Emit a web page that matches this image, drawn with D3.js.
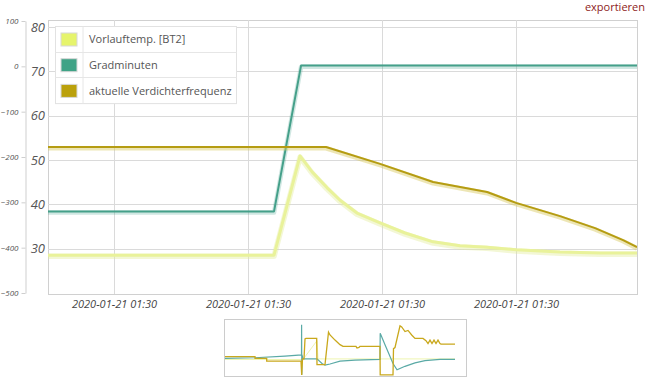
<!DOCTYPE html>
<html><head><meta charset="utf-8">
<script src="https://cdn.jsdelivr.net/npm/d3@7"></script>
<style>body{margin:0;background:#fff}svg{display:block}</style>
</head><body><svg id="c" width="647" height="380"></svg>
<script>
// ---------- data ----------
const seriesNames = ["Vorlauftemp. [BT2]", "Gradminuten", "aktuelle Verdichterfrequenz"];
const seriesColors = ["#e6f46c", "#3fa386", "#bba10c"];

// seconds after 2020-01-21 01:30:00
const vorlaufTimes  = [5.07, 21.94, 23.88, 24.78, 25.90, 26.87, 28.13, 29.85, 31.72, 33.81, 35.82, 37.84, 40.0, 43.28, 46.27, 49.03];
const vorlaufValues = [28.5, 28.5, 50.9, 47.3, 43.7, 40.9, 38.0, 35.8, 33.5, 31.5, 30.6, 30.3, 29.7, 29.2, 29.0, 29.0];

const gradTimes  = [5.07, 21.94, 23.96, 49.03];
const gradValues = [-320, -320, 2, 2];

const freqTimes  = [5.07, 25.82, 29.85, 33.81, 37.84, 40.0, 43.28, 45.90, 47.99, 49.03];
const freqValues = [52.9, 52.9, 49.1, 45.0, 42.75, 40.3, 37.3, 34.6, 31.9, 30.3];

const xTickSeconds = [10, 20, 30, 40];
const innerTicks = [30, 40, 50, 60, 70, 80];
const outerTicks = [100, 0, -100, -200, -300, -400, -500];

// overview (navigator) series: time index, relative level 0..100
const ovFreqT = [0,30,30,41.7,41.7,76,76.7,77.5,79,80,81,91.7,92,100,103.5,105,110,115,118,131,132,134,135,155,155.2,168,168.5,170,175,176.7,180,183,186.7,190,198,201,203,205,207,209,211,213,215,216,230];
const ovFreqV = [34,34,31,31,26,26,2,30,30,65,66,66,20,20,77,72,63,55,52,52,49,50,52,52,2,2,48,50,88,86,78,80,72,66,66,62,57,63,57,63,57,63,57,56,56];
const ovGradT = [0,30,60,76.5,76.6,76.8,77,78,92,97,100,105,115,130,155,155.2,160,168,172,180,190,200,215,230];
const ovGradV = [31,32,35,37,90,2,37,30,30,22,19,21,26,28,29,75,55,22,11,17,23,27,29,29];
const ovVorT = [0,78,92,93,230];
const ovVorV = [29,29,62,30,30];

// ---------- setup ----------
const svg = d3.select("#c");
const base = new Date(2020, 0, 21, 1, 30, 0).getTime();
const toDate = s => new Date(base + s * 1000);
const L = 48, R = 637, T = 20, B = 294;

const allT = vorlaufTimes.concat(gradTimes, freqTimes);
const x = d3.scaleTime().domain(d3.extent(allT).map(toDate)).range([L, R]);
const yInner = d3.scaleLinear().domain([20, 80]).range([292.8, 27]);
const yOuter = d3.scaleLinear().domain([-500, 100]).range([293, 21]);

const FONT = "'Open Sans', 'DejaVu Sans', sans-serif";

// plot frame + grid
svg.append("rect").attr("x", L).attr("y", T).attr("width", R - L).attr("height", B - T)
  .attr("fill", "#fff").attr("stroke", "#d0d0d0").attr("stroke-width", 1)
  .attr("shape-rendering", "crispEdges");

const grid = svg.append("g").attr("stroke", "#dadada").attr("stroke-width", 1).attr("shape-rendering", "crispEdges");
grid.selectAll("line.h").data(innerTicks).join("line")
  .attr("x1", L).attr("x2", R).attr("y1", d => Math.round(yInner(d)) + 0.5).attr("y2", d => Math.round(yInner(d)) + 0.5);
grid.selectAll("line.v").data(xTickSeconds).join("line")
  .attr("y1", T).attr("y2", B).attr("x1", d => Math.round(x(toDate(d))) + 0.5).attr("x2", d => Math.round(x(toDate(d))) + 0.5);

// x axis labels
const xAxis = d3.axisBottom(x).tickValues(xTickSeconds.map(toDate))
  .tickFormat(d3.timeFormat("%Y-%m-%d %H:%M")).tickSize(0).tickPadding(6);
const gx = svg.append("g").attr("transform", `translate(0,${B})`).call(xAxis);
gx.select(".domain").remove();
gx.selectAll("text").attr("font-family", FONT).attr("font-size", 11).attr("font-style", "italic").attr("fill", "#444");

// inner y axis
const yInAxis = d3.axisLeft(yInner).tickValues(innerTicks).tickSize(0).tickPadding(3);
const gyi = svg.append("g").attr("transform", `translate(${L},0)`).call(yInAxis);
gyi.select(".domain").remove();
gyi.selectAll("text").attr("font-family", FONT).attr("font-size", 13).attr("font-style", "italic").attr("fill", "#555");

// outer y axis
const yOutAxis = d3.axisLeft(yOuter).tickValues(outerTicks).tickSize(4).tickSizeOuter(0).tickPadding(3);
const gyo = svg.append("g").attr("transform", `translate(25.5,0)`).call(yOutAxis);
gyo.select(".domain").attr("stroke", "#cfcfcf");
gyo.selectAll(".tick line").attr("stroke", "#cfcfcf");
gyo.selectAll("text").attr("font-family", FONT).attr("font-size", 8).attr("font-style", "italic").attr("fill", "#555");

// lines
const clip = svg.append("clipPath").attr("id", "pc").append("rect")
  .attr("x", L).attr("y", T).attr("width", R - L).attr("height", B - T);
const plot = svg.append("g").attr("clip-path", "url(#pc)");

function drawSeries(times, vals, yS, color, width, shadow) {
  const data = times.map((t, i) => ({ t: toDate(t), v: vals[i] }));
  const line = d3.line().x(d => x(d.t)).y(d => yS(d.v));
  plot.append("path").datum(data).attr("d", line).attr("fill", "none")
    .attr("stroke", shadow).attr("stroke-width", width + 2.5).attr("stroke-linejoin", "round")
    .attr("transform", "translate(0,1.2)");
  plot.append("path").datum(data).attr("d", line).attr("fill", "none")
    .attr("stroke", color).attr("stroke-width", width).attr("stroke-linejoin", "round");
}
drawSeries(vorlaufTimes, vorlaufValues, yInner, "#e9f29a", 3, "rgba(225,235,150,0.4)");
drawSeries(gradTimes, gradValues, yOuter, "#45a08a", 2, "rgba(69,160,138,0.25)");
drawSeries(freqTimes, freqValues, yInner, "#b59c12", 2, "rgba(215,200,90,0.45)");

// legend
const lg = svg.append("g").attr("transform", "translate(55.5,26.5)");
const rowH = 25.7, lgW = 181;
lg.append("rect").attr("width", lgW).attr("height", rowH * 3).attr("fill", "#fff").attr("stroke", "#e2e2e2");
lg.selectAll("line.r").data([1, 2]).join("line").attr("x1", 0).attr("x2", lgW)
  .attr("y1", d => Math.round(d * rowH)).attr("y2", d => Math.round(d * rowH)).attr("stroke", "#e6e6e6");
lg.append("line").attr("x1", 27.5).attr("x2", 27.5).attr("y1", 0).attr("y2", rowH * 3).attr("stroke", "#e6e6e6");
const rows = lg.selectAll("g.row").data(seriesNames).join("g").attr("transform", (d, i) => `translate(0,${i * rowH})`);
rows.append("rect").attr("x", 5.5).attr("y", 6.5).attr("width", 16).attr("height", 13)
  .attr("fill", (d, i) => seriesColors[i]).attr("stroke", "#d8d8d8");
rows.append("text").attr("x", 33.5).attr("y", rowH / 2 + 4).text(d => d)
  .attr("font-family", FONT).attr("font-size", 11).attr("fill", "#555");

// export link
svg.append("text").attr("x", 645).attr("y", 11).attr("text-anchor", "end").text("exportieren")
  .attr("font-family", FONT).attr("font-size", 11).attr("fill", "#8e1b1b");

// overview navigator
const ovX = d3.scaleLinear().domain([0, 230]).range([225, 455]);
const ovY = d3.scaleLinear().domain([0, 100]).range([376, 319]);
svg.append("rect").attr("x", 224.5).attr("y", 319.5).attr("width", 242).attr("height", 57)
  .attr("fill", "#fff").attr("stroke", "#cccccc");
const ov = svg.append("g");
function ovLine(ts, vs, color, w) {
  const data = ts.map((t, i) => [t, vs[i]]);
  ov.append("path").datum(data).attr("d", d3.line().x(d => ovX(d[0])).y(d => ovY(d[1])))
    .attr("fill", "none").attr("stroke", color).attr("stroke-width", w);
}
ovLine(ovVorT, ovVorV, "#eef5b0", 1);
ovLine(ovGradT, ovGradV, "#5aaaa6", 1.2);
ovLine(ovFreqT, ovFreqV, "#c9a81c", 1.3);
</script></body></html>
